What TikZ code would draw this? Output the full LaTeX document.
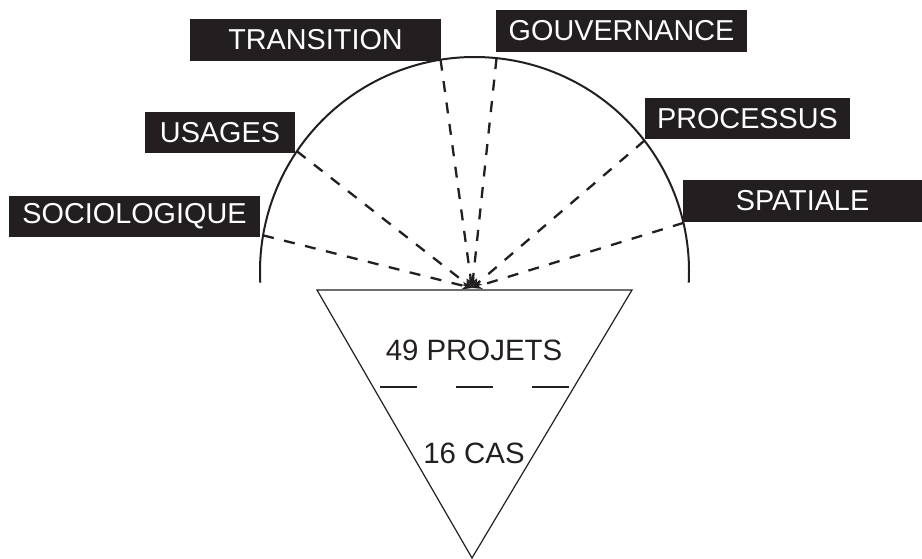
\documentclass[tikz,border=0pt]{standalone}
\usepackage{fontspec}
\setmainfont{Liberation Sans}
\usepackage{tikz}
\usetikzlibrary{arrows.meta}
\definecolor{ink}{HTML}{231F20}
\tikzstyle{dim_label}=[fill=ink, text=white, inner sep=0pt, minimum height=20.75pt,
    font=\fontsize{14.4}{17}\selectfont]
\tikzstyle{dim_link}=[ink, line width=1.15pt, dash pattern=on 5.5pt off 5.3pt,
    -{Stealth[length=5pt,width=4pt]}]
\tikzstyle{count_text}=[text=ink, inner sep=0pt, font=\fontsize{14.7}{17}\selectfont]

\begin{document}
\begin{tikzpicture}[x=0.5pt, y=0.5pt]
\useasboundingbox (0,0) rectangle (922,558);
\coordinate (c) at (474.5,286.5);
\coordinate (hub) at (472,270);
\draw[ink, line width=1pt] (c) ++(-3:214.5) arc[start angle=-3, end angle=183, radius=214.5];
\path (c) ++(170.3:214.5) coordinate (arc0);
\path (c) ++(145.9:214.5) coordinate (arc1);
\path (c) ++(99.1:214.5) coordinate (arc2);
\path (c) ++(84.1:214.5) coordinate (arc3);
\path (c) ++(37.6:214.5) coordinate (arc4);
\path (c) ++(13.1:214.5) coordinate (arc5);
\node[dim_label, minimum width=125.5pt] (dim0) at (134.5,341.5){SOCIOLOGIQUE};
\node[dim_label, minimum width=75pt] (dim1) at (220,425.5){USAGES};
\node[dim_label, minimum width=125.5pt] (dim2) at (315.5,518){TRANSITION};
\node[dim_label, minimum width=125.5pt] (dim3) at (621.5,527){GOUVERNANCE};
\node[dim_label, minimum width=102.5pt] (dim4) at (747.5,439.5){PROCESSUS};
\node[dim_label, minimum width=119.5pt] (dim5) at (802.5,357){SPATIALE};
\draw[dim_link](arc0) -- (hub);
\draw[dim_link](arc1) -- (hub);
\draw[dim_link](arc2) -- (hub);
\draw[dim_link](arc3) -- (hub);
\draw[dim_link](arc4) -- (hub);
\draw[dim_link](arc5) -- (hub);
% funnel
\draw[ink, line width=0.6pt] (317,268) -- (632,268) -- (472,0) -- cycle;
\draw[ink, line width=0.6pt, dash pattern=on 18.5pt off 19.5pt] (380,171) -- (571,171);
\node[count_text] (proj) at (474,208){49 PROJETS};
\node[count_text] (cas) at (474,105){16 CAS};
\end{tikzpicture}
\end{document}
